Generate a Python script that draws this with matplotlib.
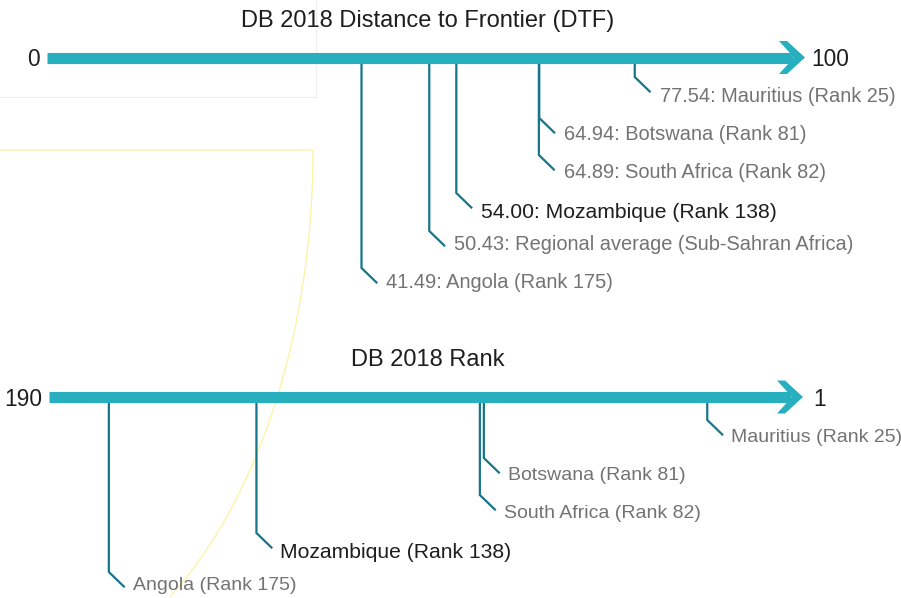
import numpy as np
import matplotlib
matplotlib.use("Agg")
import matplotlib.pyplot as plt
from matplotlib.patches import Polygon

# ---------------- data ----------------
dtf_title = "DB 2018 Distance to Frontier (DTF)"
dtf_min, dtf_max = 0, 100
dtf_values = [77.54, 64.94, 64.89, 54.00, 50.43, 41.49]
dtf_labels = ["77.54: Mauritius (Rank 25)",
              "64.94: Botswana (Rank 81)",
              "64.89: South Africa (Rank 82)",
              "54.00: Mozambique (Rank 138)",
              "50.43: Regional average (Sub-Sahran Africa)",
              "41.49: Angola (Rank 175)"]
dtf_highlight = [False, False, False, True, False, False]

rank_title = "DB 2018 Rank"
rank_min, rank_max = 190, 1
rank_values = [25, 81, 82, 138, 175]
rank_labels = ["Mauritius (Rank 25)",
               "Botswana (Rank 81)",
               "South Africa (Rank 82)",
               "Mozambique (Rank 138)",
               "Angola (Rank 175)"]
rank_highlight = [False, False, False, True, False]

# ---------------- layout (pixels) ----------------
W, H = 901, 598
top_bar_y = 57.5
bot_bar_y = 397
top_elbow = [77, 118, 155, 193, 231, 268]
top_text_y = [94, 133, 170, 211, 243, 281]
bot_elbow = [420, 458, 495, 533, 572]
bot_text_y = [435, 473, 512, 550, 584]

BAR = "#27afc0"
LINE = "#17758a"
GRAY = "#737373"
DARK = "#1e1e1e"
FONT = "Liberation Sans"
NUM_FS = 16.4
TITLE_FS = 17

fig = plt.figure(figsize=(W / 100, H / 100), dpi=100)
fig.patch.set_facecolor("white")

# faint background artefacts
bg = fig.add_axes([0, 0, 1, 1])
bg.set_xlim(0, W); bg.set_ylim(H, 0); bg.axis("off")
bg.plot([0, 316, 316], [97, 97, 0], color="#efefef", lw=0.8)
t = np.linspace(0, 1, 200)
yy = 150 + 532 * t
xx = 313 * np.sqrt(np.clip(1 - ((yy - 150) / 532) ** 2, 0, 1))
mask = yy <= H
bg.plot(np.r_[0, xx[mask]], np.r_[150, yy[mask]], color="#fbf3a0", lw=0.9)


def make_axis(left_px, right_px, vmin, vmax):
    ax = fig.add_axes([left_px / W, 0, (right_px - left_px) / W, 1])
    ax.set_xlim(vmin, vmax)
    ax.set_ylim(H, 0)
    ax.axis("off")
    upp = (vmax - vmin) / (right_px - left_px)  # units per pixel (signed)
    return ax, upp


def draw_arrow(ax, upp, vmin, vmax, y):
    ax.plot([vmin, vmax - 12 * upp], [y, y], color=BAR, lw=8.0,
            solid_capstyle="butt", clip_on=False, zorder=2)
    pts = [(vmax, y), (vmax - 18 * upp, y - 16.5), (vmax - 26 * upp, y - 16.5),
           (vmax - 11 * upp, y), (vmax - 26 * upp, y + 16.5),
           (vmax - 18 * upp, y + 16.5)]
    ax.add_patch(Polygon(pts, closed=True, facecolor=BAR, edgecolor="none",
                         clip_on=False, zorder=2))


def callouts(ax, upp, values, labels, hl, bar_y, elbows, texty, fs, hl_fs, gap):
    for v, lab, h, ey, ty in zip(values, labels, hl, elbows, texty):
        x_end = v + 15 * upp
        ax.plot([v, v, x_end], [bar_y + 5, ey, ey + 14.5], color=LINE, lw=1.6,
                solid_joinstyle="miter", clip_on=False, zorder=1)
        ax.text(v + gap * upp, ty, lab, fontsize=hl_fs if h else fs, family=FONT,
                color=DARK if h else GRAY, ha="left", va="center_baseline")


# top axis: DTF
ax1, u1 = make_axis(47, 805, dtf_min, dtf_max)
draw_arrow(ax1, u1, dtf_min, dtf_max, top_bar_y)
callouts(ax1, u1, dtf_values, dtf_labels, dtf_highlight, top_bar_y, top_elbow,
         top_text_y, 14.4, 15.2, 25)
ax1.text(dtf_min - 7 * u1, top_bar_y, str(dtf_min), fontsize=NUM_FS, family=FONT,
         color=DARK, ha="right", va="center_baseline")
ax1.text(dtf_max + 6 * u1, top_bar_y, str(dtf_max), fontsize=NUM_FS, family=FONT,
         color=DARK, ha="left", va="center_baseline")
ax1.text((dtf_min + dtf_max) / 2 + 1.5 * u1, 18, dtf_title, fontsize=TITLE_FS, family=FONT,
         color=DARK, ha="center", va="center_baseline")

# bottom axis: Rank
ax2, u2 = make_axis(49, 803, rank_min, rank_max)
draw_arrow(ax2, u2, rank_min, rank_max, bot_bar_y)
callouts(ax2, u2, rank_values, rank_labels, rank_highlight, bot_bar_y, bot_elbow,
         bot_text_y, 14.0, 15.2, 24)
ax2.text(rank_min - 7 * u2, bot_bar_y, str(rank_min), fontsize=NUM_FS, family=FONT,
         color=DARK, ha="right", va="center_baseline")
ax2.text(rank_max + 10 * u2, bot_bar_y, str(rank_max), fontsize=NUM_FS, family=FONT,
         color=DARK, ha="left", va="center_baseline")
ax1.text((dtf_min + dtf_max) / 2 + 1.5 * u1, 357, rank_title, fontsize=TITLE_FS, family=FONT,
         color=DARK, ha="center", va="center_baseline")

fig.savefig("out.png", dpi=100, facecolor="white")
